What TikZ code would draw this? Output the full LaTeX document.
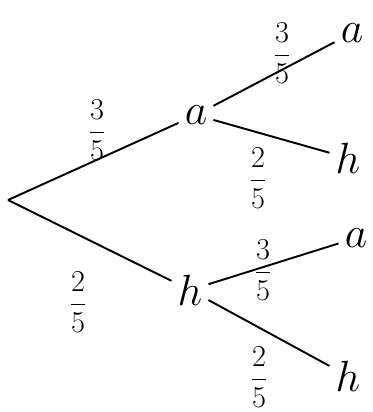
\documentclass[tikz,border=0pt]{standalone}
\begin{document}
\begin{tikzpicture}[
    x=0.02cm, y=-0.02cm,
    every node/.style={font=\fontsize{28}{32}\selectfont},
    prob/.style={font=\fontsize{19}{22}\selectfont},
    branch/.style={line width=1.1pt}
]
\useasboundingbox (0,0) rectangle (372,412);
\coordinate (root) at (8,200);
\node (a) at (196,115) {$a$};
\node (h) at (190,290) {$h$};
\node (aa) at (352,33) {$a$};
\node (ah) at (348,158) {$h$};
\node (ha) at (356,238) {$a$};
\node (hh) at (348,376) {$h$};

\draw[branch] (root) -- (a);
\draw[branch] (root) -- (h);
\draw[branch] (a) -- (aa);
\draw[branch] (a) -- (ah);
\draw[branch] (h) -- (ha);
\draw[branch] (h) -- (hh);

\node[prob] (pa) at (97,130) {$\displaystyle\frac{3}{5}$};
\node[prob] (ph) at (78,302) {$\displaystyle\frac{2}{5}$};
\node[prob] (paa) at (282,53) {$\displaystyle\frac{3}{5}$};
\node[prob] (pah) at (258,178) {$\displaystyle\frac{2}{5}$};
\node[prob] (pha) at (263,270) {$\displaystyle\frac{3}{5}$};
\node[prob] (phh) at (259,377) {$\displaystyle\frac{2}{5}$};
\end{tikzpicture}
\end{document}
